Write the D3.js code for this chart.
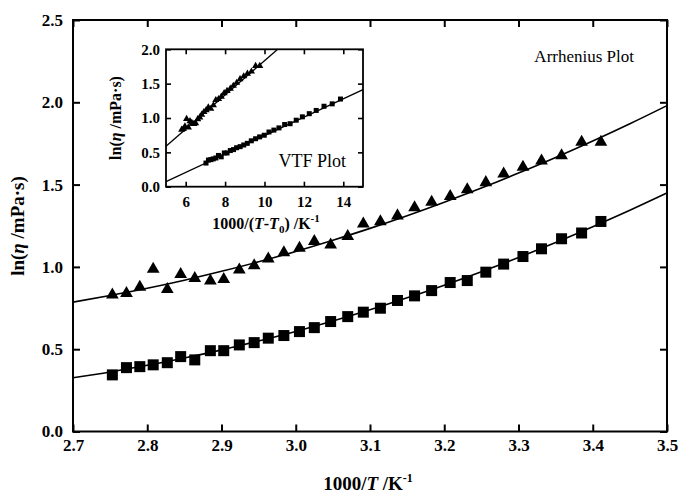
<!DOCTYPE html>
<html><head><meta charset="utf-8">
<script src="https://cdn.jsdelivr.net/npm/d3@7"></script>
<style>body{margin:0;background:#fff} svg{display:block}</style>
</head><body>
<svg id="c" width="679" height="496"></svg>
<script>
// ---------- data ----------
const xVals = [2.753,2.772,2.790,2.808,2.827,2.845,2.864,2.885,2.903,2.924,2.944,2.963,2.984,3.005,3.025,3.047,3.070,3.091,3.114,3.137,3.160,3.183,3.208,3.231,3.256,3.280,3.306,3.331,3.358,3.385,3.411];
const triY = [0.830,0.840,0.877,0.986,0.864,0.955,0.930,0.915,0.925,0.982,1.008,1.049,1.087,1.114,1.155,1.134,1.185,1.262,1.276,1.311,1.361,1.394,1.428,1.469,1.513,1.566,1.607,1.645,1.676,1.759,1.759];
const sqY = [0.344,0.388,0.394,0.405,0.418,0.455,0.435,0.491,0.491,0.526,0.540,0.567,0.583,0.607,0.631,0.668,0.698,0.725,0.749,0.796,0.824,0.856,0.905,0.917,0.968,1.017,1.063,1.110,1.171,1.206,1.276];
const fitX = [2.70,2.75,2.80,2.85,2.90,2.95,3.00,3.05,3.10,3.15,3.20,3.25,3.30,3.35,3.40,3.45,3.50];
const triFitY = [0.786,0.826,0.870,0.919,0.973,1.031,1.094,1.162,1.234,1.311,1.393,1.479,1.570,1.665,1.765,1.870,1.980];
const sqFitY = [0.327,0.362,0.402,0.447,0.496,0.550,0.608,0.671,0.739,0.812,0.889,0.971,1.057,1.148,1.244,1.344,1.449];
// inset (VTF plot)
const insetTriX = [5.796,5.881,5.962,6.045,6.134,6.219,6.311,6.414,6.503,6.609,6.713,6.812,6.924,7.038,7.149,7.273,7.406,7.529,7.667,7.808,7.952,8.099,8.263,8.418,8.589,8.758,8.946,9.132,9.337,9.549,9.759];
const insetSqX = [7.030,7.156,7.277,7.400,7.534,7.663,7.803,7.961,8.099,8.264,8.427,8.584,8.763,8.946,9.126,9.329,9.548,9.754,9.987,10.227,10.476,10.733,11.023,11.299,11.610,11.922,12.273,12.625,13.021,13.437,13.856];
const insetTriLineX = [5, 10.67], insetTriLineY = [0.59, 2.0];
const insetSqLineX = [5, 15], insetSqLineY = [0.073, 1.413];
const xTicks = [2.7,2.8,2.9,3.0,3.1,3.2,3.3,3.4,3.5];
const yTicks = [0,0.5,1.0,1.5,2.0,2.5];
const insetXTicks = [6,8,10,12,14];
const insetYTicks = [0,0.5,1.0,1.5,2.0];

// ---------- drawing ----------
const svg = d3.select("#c");
const FONT = "'Liberation Serif','Times New Roman',serif";
const L = 73, R = 667, T = 20, B = 431.5;
const x = d3.scaleLinear([2.7,3.5],[L,R]);
const y = d3.scaleLinear([0,2.5],[B,T]);
const f1 = d3.format(".1f");

function styleAxis(g, fs){
  g.selectAll(".domain").remove();
  g.selectAll("line").attr("stroke","#000").attr("stroke-width",2);
  g.selectAll("text").attr("font-family",FONT).attr("font-weight","bold").attr("font-size",fs).attr("fill","#000");
}
const TK = 7;
svg.append("g").attr("transform",`translate(0,${B})`)
  .call(d3.axisBottom(x).tickValues(xTicks).tickFormat(f1).tickSizeInner(-TK).tickSizeOuter(0).tickPadding(7))
  .call(g=>styleAxis(g,17));
svg.append("g").attr("transform",`translate(0,${T})`)
  .call(d3.axisTop(x).tickValues(xTicks).tickFormat("").tickSizeInner(-TK).tickSizeOuter(0))
  .call(g=>styleAxis(g,17));
svg.append("g").attr("transform",`translate(${L},0)`)
  .call(d3.axisLeft(y).tickValues(yTicks).tickFormat(f1).tickSizeInner(-TK).tickSizeOuter(0).tickPadding(10))
  .call(g=>styleAxis(g,17));
svg.append("g").attr("transform",`translate(${R},0)`)
  .call(d3.axisRight(y).tickValues(yTicks).tickFormat("").tickSizeInner(-TK).tickSizeOuter(0))
  .call(g=>styleAxis(g,17));
svg.append("rect").attr("x",L).attr("y",T).attr("width",R-L).attr("height",B-T)
  .attr("fill","none").attr("stroke","#000").attr("stroke-width",2);

// fit lines
const line = d3.line().x(d=>x(d[0])).y(d=>y(d[1])).curve(d3.curveMonotoneX);
svg.append("path").attr("d",line(fitX.map((v,i)=>[v,triFitY[i]]))).attr("fill","none").attr("stroke","#000").attr("stroke-width",1.6);
svg.append("path").attr("d",line(fitX.map((v,i)=>[v,sqFitY[i]]))).attr("fill","none").attr("stroke","#000").attr("stroke-width",1.6);

// markers
const triSym = d3.symbol().type(d3.symbolTriangle).size(70);
svg.append("g").selectAll("path").data(xVals.map((v,i)=>[v,triY[i]])).join("path")
  .attr("d",triSym).attr("transform",d=>`translate(${x(d[0])},${y(d[1])})`).attr("fill","#000");
const sqS = 11;
svg.append("g").selectAll("rect").data(xVals.map((v,i)=>[v,sqY[i]])).join("rect")
  .attr("x",d=>x(d[0])-sqS/2).attr("y",d=>y(d[1])-sqS/2).attr("width",sqS).attr("height",sqS).attr("fill","#000");

// axis titles
svg.append("text").attr("transform","translate(24,226) rotate(-90)").attr("text-anchor","middle")
  .attr("font-family",FONT).attr("font-weight","bold").attr("font-size",19)
  .call(t=>{ t.append("tspan").text("ln(");
    t.append("tspan").attr("font-style","italic").text("η");
    t.append("tspan").text(" /mPa·s)"); });
svg.append("text").attr("x",368).attr("y",490).attr("text-anchor","middle")
  .attr("font-family",FONT).attr("font-weight","bold").attr("font-size",19)
  .call(t=>{ t.append("tspan").text("1000/");
    t.append("tspan").attr("font-style","italic").text("T");
    t.append("tspan").text(" /K");
    t.append("tspan").attr("font-size",12).attr("dy",-8).text("-1"); });

svg.append("text").attr("x",634).attr("y",62).attr("text-anchor","end")
  .attr("font-family",FONT).attr("font-size",17).text("Arrhenius Plot");

// ---------- inset ----------
const iL = 166, iR = 363, iT = 49.3, iB = 186.7;
const ix = d3.scaleLinear([5,15],[iL,iR]);
const iy = d3.scaleLinear([0,2],[iB,iT]);
svg.append("rect").attr("x",iL).attr("y",iT).attr("width",iR-iL).attr("height",iB-iT).attr("fill","#fff");
const ITK = 5;
function styleInset(g){
  g.selectAll(".domain").remove();
  g.selectAll("line").attr("stroke","#000").attr("stroke-width",1.6);
  g.selectAll("text").attr("font-family",FONT).attr("font-weight","bold").attr("font-size",15).attr("fill","#000");
}
svg.append("g").attr("transform",`translate(0,${iB})`)
  .call(d3.axisBottom(ix).tickValues(insetXTicks).tickFormat(d3.format("d")).tickSizeInner(-ITK).tickSizeOuter(0).tickPadding(10)).call(styleInset);
svg.append("g").attr("transform",`translate(0,${iT})`)
  .call(d3.axisTop(ix).tickValues(insetXTicks).tickFormat("").tickSizeInner(-ITK).tickSizeOuter(0)).call(styleInset);
svg.append("g").attr("transform",`translate(${iL},0)`)
  .call(d3.axisLeft(iy).tickValues(insetYTicks).tickFormat(f1).tickSizeInner(-ITK).tickSizeOuter(0).tickPadding(6)).call(styleInset);
svg.append("g").attr("transform",`translate(${iR},0)`)
  .call(d3.axisRight(iy).tickValues(insetYTicks).tickFormat("").tickSizeInner(-ITK).tickSizeOuter(0)).call(styleInset);

const iline = d3.line().x(d=>ix(d[0])).y(d=>iy(d[1]));
svg.append("path").attr("d",iline(insetTriLineX.map((v,i)=>[v,insetTriLineY[i]]))).attr("fill","none").attr("stroke","#000").attr("stroke-width",1.3);
svg.append("path").attr("d",iline(insetSqLineX.map((v,i)=>[v,insetSqLineY[i]]))).attr("fill","none").attr("stroke","#000").attr("stroke-width",1.3);
const iTri = d3.symbol().type(d3.symbolTriangle).size(22);
svg.append("g").selectAll("path").data(insetTriX.map((v,i)=>[v,triY[i]])).join("path")
  .attr("d",iTri).attr("transform",d=>`translate(${ix(d[0])},${iy(d[1])})`).attr("fill","#000");
const iS = 5;
svg.append("g").selectAll("rect").data(insetSqX.map((v,i)=>[v,sqY[i]])).join("rect")
  .attr("x",d=>ix(d[0])-iS/2).attr("y",d=>iy(d[1])-iS/2).attr("width",iS).attr("height",iS).attr("fill","#000");
svg.append("rect").attr("x",iL).attr("y",iT).attr("width",iR-iL).attr("height",iB-iT)
  .attr("fill","none").attr("stroke","#000").attr("stroke-width",1.8);

svg.append("text").attr("transform",`translate(121,${(iT+iB)/2}) rotate(-90)`).attr("text-anchor","middle")
  .attr("font-family",FONT).attr("font-weight","bold").attr("font-size",16)
  .call(t=>{ t.append("tspan").text("ln(");
    t.append("tspan").attr("font-style","italic").text("η");
    t.append("tspan").text(" /mPa·s)"); });
svg.append("text").attr("x",266).attr("y",229).attr("text-anchor","middle")
  .attr("font-family",FONT).attr("font-weight","bold").attr("font-size",16)
  .call(t=>{ t.append("tspan").text("1000/(");
    t.append("tspan").attr("font-style","italic").text("T");
    t.append("tspan").text("-");
    t.append("tspan").attr("font-style","italic").text("T");
    t.append("tspan").attr("font-size",11).attr("dy",4).text("0");
    t.append("tspan").attr("dy",-4).text(") /K");
    t.append("tspan").attr("font-size",11).attr("dy",-7).text("-1"); });
svg.append("text").attr("x",346).attr("y",167).attr("text-anchor","end")
  .attr("font-family",FONT).attr("font-size",18).text("VTF Plot");
</script>
</body></html>
